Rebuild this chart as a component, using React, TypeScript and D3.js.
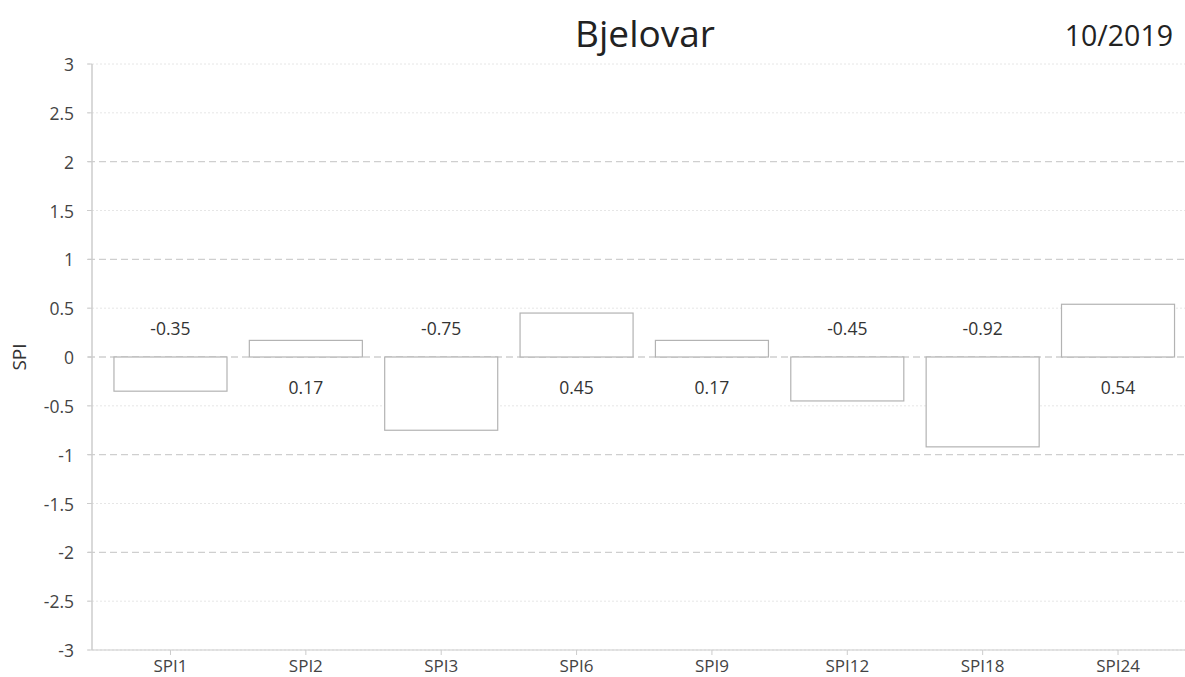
import * as d3 from "d3";

const categories = ["SPI1", "SPI2", "SPI3", "SPI6", "SPI9", "SPI12", "SPI18", "SPI24"];
const values = [-0.35, 0.17, -0.75, 0.45, 0.17, -0.45, -0.92, 0.54];
const yTicks = [3, 2.5, 2, 1.5, 1, 0.5, 0, -0.5, -1, -1.5, -2, -2.5, -3];
const title = "Bjelovar";
const period = "10/2019";

const W = 1185;
const H = 677;
const FONT = "'Open Sans', 'Noto Sans', sans-serif";

export default function App() {
  const axisX = 92;
  const x = d3
    .scaleBand()
    .domain(categories)
    .range([102.8, 1185.7])
    .paddingInner(0.165)
    .paddingOuter(0.0825);
  const y = d3.scaleLinear().domain([-3, 3]).range([650, 64]);

  return (
    <svg
      width={W}
      height={H}
      viewBox={`0 0 ${W} ${H}`}
      style={{ position: "absolute", left: 0, top: 0, fontFamily: FONT }}
    >
      <rect width={W} height={H} fill="#fff" />
      {/* grid */}
      {yTicks.map((t) => {
        const major = Number.isInteger(t) && Math.abs(t) !== 3;
        return (
          <line
            key={t}
            x1={axisX - 4}
            x2={W}
            y1={y(t)}
            y2={y(t)}
            stroke={major ? "#cfcfcf" : "#e6e6e6"}
            strokeWidth={major ? 1.3 : 1}
            strokeDasharray={major ? "7,4" : "2,2"}
          />
        );
      })}
      <line x1={axisX} x2={W} y1={y(-3)} y2={y(-3)} stroke="#cccccc" strokeWidth={1.2} />
      <line x1={axisX} x2={axisX} y1={y(3)} y2={y(-3)} stroke="#cccccc" strokeWidth={1.5} />
      {yTicks.map((t) => (
        <g key={"l" + t}>
          <line x1={axisX - 5} x2={axisX} y1={y(t)} y2={y(t)} stroke="#cccccc" />
          <text
            x={axisX - 18}
            y={y(t)}
            textAnchor="end"
            dominantBaseline="central"
            fontSize={17.5}
            fill="#444"
          >
            {t}
          </text>
        </g>
      ))}
      <text
        transform={`translate(19,${y(0)}) rotate(-90)`}
        textAnchor="middle"
        dominantBaseline="central"
        fontSize={19}
        fill="#333"
      >
        SPI
      </text>
      {/* bars */}
      {categories.map((c, i) => {
        const v = values[i];
        const bx = x(c)!;
        const cx = bx + x.bandwidth() / 2;
        return (
          <g key={c}>
            <rect
              x={bx}
              y={y(Math.max(0, v))}
              width={x.bandwidth()}
              height={Math.abs(y(v) - y(0))}
              fill="#fff"
              stroke="#b3b3b3"
              strokeWidth={1.2}
            />
            <text
              x={cx}
              y={v < 0 ? y(0) - 29 : y(0) + 30}
              textAnchor="middle"
              dominantBaseline="central"
              fontSize={17.5}
              fill="#333"
            >
              {v.toFixed(2)}
            </text>
            <line x1={cx} x2={cx} y1={y(-3)} y2={y(-3) + 5} stroke="#cccccc" />
            <text
              x={cx}
              y={y(-3) + 15}
              textAnchor="middle"
              dominantBaseline="central"
              fontSize={17}
              fill="#444"
            >
              {c}
            </text>
          </g>
        );
      })}
      <text x={645} y={32} textAnchor="middle" dominantBaseline="central" fontSize={37} fill="#222">
        {title}
      </text>
      <text x={1173} y={35} textAnchor="end" dominantBaseline="central" fontSize={28.5} fill="#222">
        {period}
      </text>
    </svg>
  );
}
